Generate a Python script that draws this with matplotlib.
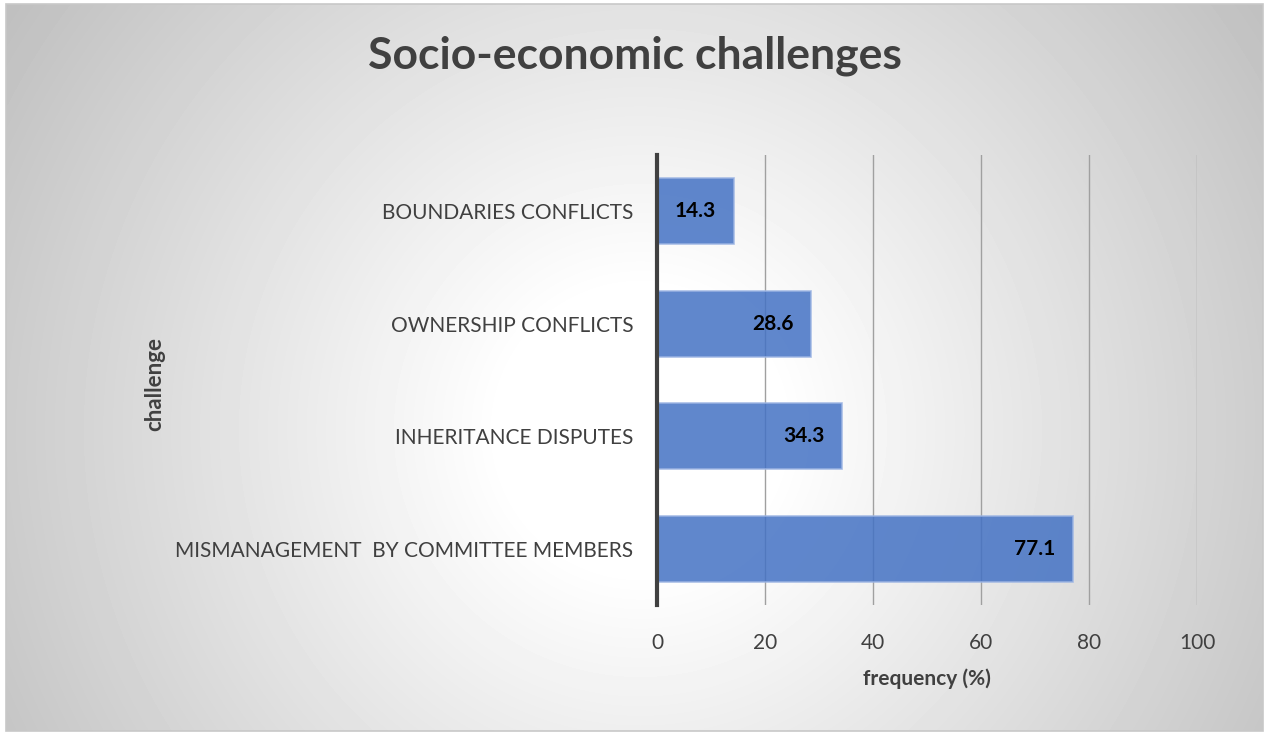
import numpy as np
import matplotlib.pyplot as plt
from matplotlib.patches import Rectangle

challenges = ["MISMANAGEMENT  BY COMMITTEE MEMBERS", "INHERITANCE DISPUTES",
              "OWNERSHIP CONFLICTS", "BOUNDARIES CONFLICTS"]
frequency = [77.1, 34.3, 28.6, 14.3]
xticks = [0, 20, 40, 60, 80, 100]

plt.rcParams["font.family"] = ["Lato", "DejaVu Sans"]

W, H = 1265, 734
fig = plt.figure(figsize=(W / 100, H / 100), dpi=100)
fig.patch.set_facecolor("white")

# radial grey-to-white backdrop inside the chart frame
x0, y0, x1, y1 = 6, 4, 1263, 731
bg = fig.add_axes([x0 / W, 1 - y1 / H, (x1 - x0) / W, (y1 - y0) / H], zorder=0)
gx, gy = np.meshgrid(np.arange(x0, x1), np.arange(y0, y1))
r = np.hypot(gx - 640, gy - 430)
shade = 1 - 0.25 * np.clip((r - 140) / 620, 0, 1)
bg.imshow(shade, cmap="gray", vmin=0, vmax=1, aspect="auto", interpolation="bilinear")
bg.set_axis_off()
fig.patches.append(Rectangle((x0 / W, 1 - y1 / H), (x1 - x0) / W, (y1 - y0) / H,
                             transform=fig.transFigure, fill=False,
                             edgecolor="#c8c8c8", linewidth=1.2, zorder=1))

ax = fig.add_axes([657 / W, 1 - 605 / H, 540 / W, 450 / H], zorder=2)
ax.patch.set_alpha(0)

ypos = np.arange(len(challenges))
ax.barh(ypos, frequency, height=0.59, color="#4472c4", alpha=0.85,
        edgecolor="#9db5e3", linewidth=1.2, zorder=3)
for y, v in zip(ypos, frequency):
    ax.annotate(f"{v}", (v, y), xytext=(-13, 0), textcoords="offset points",
                ha="right", va="center", fontsize=15, fontweight="bold",
                color="black", zorder=4)

ax.set_xlim(0, 100)
ax.set_ylim(-0.5, len(challenges) - 0.5)
ax.set_xticks(xticks)
ax.set_yticks(ypos)
ax.set_yticklabels(challenges)
ax.xaxis.grid(True, color="#a0a0a0", linewidth=1, zorder=1)
ax.set_axisbelow(True)
ax.tick_params(axis="both", length=0, labelsize=15, colors="#404040")
ax.tick_params(axis="x", pad=20)
ax.tick_params(axis="y", pad=17)
for s in ["top", "right", "bottom"]:
    ax.spines[s].set_visible(False)
ax.spines["left"].set_color("#404040")
ax.spines["left"].set_linewidth(3)
ax.spines["left"].set_zorder(5)

ax.set_xlabel("frequency (%)", fontsize=15, fontweight="bold", color="#404040",
              labelpad=11)
fig.text(155 / W, 1 - 384 / H, "challenge", rotation=90, ha="center", va="center",
         fontsize=16, fontweight="bold", color="#404040")
fig.text(635 / W, 1 - 56 / H, "Socio-economic challenges", ha="center", va="center",
         fontsize=32, fontweight="bold", color="#404040")

fig.savefig("out.png", dpi=100)
